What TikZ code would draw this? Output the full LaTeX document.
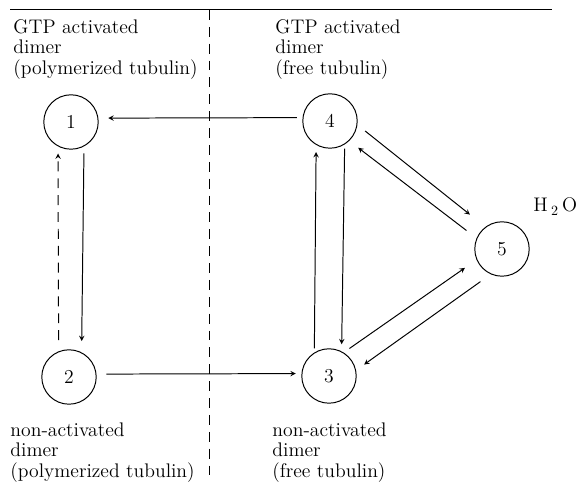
\documentclass[tikz,border=0pt]{standalone}
\begin{document}
\begin{tikzpicture}[x=0.025cm, y=0.025cm, >=stealth, line width=0.7pt,
  every node/.style={font=\fontsize{14}{14.6}\selectfont},
  state/.style={draw, circle, minimum size=1.36cm, inner sep=0pt},
  lab/.style={anchor=north west, align=left, inner sep=0pt},
  cut/.style={dash pattern=on 7pt off 5pt}]
\useasboundingbox (0,0) rectangle (579,485);
% frame
\draw (10,475) -- (552,475);
\draw[cut] (209,475) -- (209,3);

\node[lab] (tl) at (13,466) {GTP activated\\dimer\\(polymerized tubulin)};
\node[lab] (tr) at (275,466) {GTP activated\\dimer\\(free tubulin)};
\node[lab] (bl) at (10,63) {non-activated\\dimer\\(polymerized tubulin)};
\node[lab] (br) at (272,63) {non-activated\\dimer\\(free tubulin)};

\node[state] (n1) at (71,363) {1};
\node[state] (n2) at (69,108) {2};
\node[state] (n3) at (329,109) {3};
\node[state] (n4) at (330,364) {4};
\node[state] (n5) at (502,236) {5};
\node[anchor=base west, inner sep=0pt] (h2o) at (533,273) {H\,$_2$\,O};

\draw[->, shorten <=4pt, shorten >=7pt] (n4.173) -- (n1.8);
\draw[->, shorten <=5pt, shorten >=8pt] (n1.-62) -- (n2.63);
\draw[->, cut, shorten <=8pt, shorten >=5pt] (n2.112) -- (n1.242);
\draw[->, shorten <=7pt, shorten >=4pt] (n2.6) -- (n3.175);
\draw[->, shorten <=3pt, shorten >=5pt] (n4.-58) -- (n3.63);
\draw[->, shorten <=3pt, shorten >=5pt] (n3.122) -- (n4.240);
\draw[->, shorten <=7pt, shorten >=14pt] (n4.-8) -- (n5.127);
\draw[->, shorten <=9pt, shorten >=8pt] (n5.157) -- (n4.-46);
\draw[->, shorten <=5pt, shorten >=10pt] (n3.58) -- (n5.203);
\draw[->, shorten <=9pt, shorten >=7pt] (n5.246) -- (n3.12);

\end{tikzpicture}
\end{document}
